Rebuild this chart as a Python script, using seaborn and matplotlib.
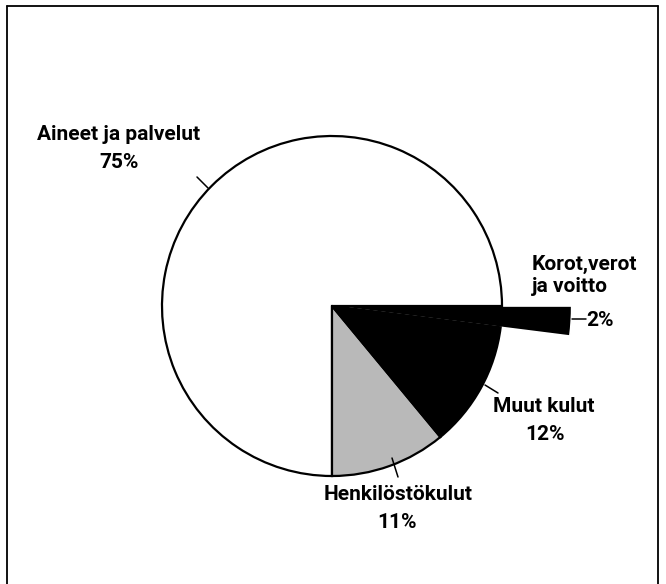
import matplotlib
matplotlib.use("Agg")
import matplotlib.pyplot as plt
from matplotlib.lines import Line2D
import seaborn as sns

sns.set_theme(style="white")
plt.rcParams["font.family"] = ["Roboto", "Liberation Sans", "DejaVu Sans"]

# data (order = counterclockwise from 3 o'clock)
labels = ["Aineet ja palvelut", "Henkilöstökulut", "Muut kulut", "Korot,verot\nja voitto"]
shares = [75, 11, 12, 2]
colors = ["white", "#b9b9b9", "black", "black"]

W, H = 666, 584
CX, CY, R = 332, H - 306, 170


def px(x, y):
    # image pixel (y from top) -> data coords
    return x, H - y


fig = plt.figure(figsize=(W / 100, H / 100), dpi=100)
ax = fig.add_axes([0, 0, 1, 1])
wedges, _ = ax.pie(shares, colors=colors, startangle=0, counterclock=True,
                   center=(CX, CY), radius=R,
                   wedgeprops=dict(edgecolor="black", linewidth=1.6))
# the small slice is drawn as a long spike past the rim
spike = wedges[3]
spike.set_radius(R * 1.41)
spike.set_edgecolor("white")
spike.set_linewidth(1.2)
spike.set_zorder(0.5)
ax.set_xlim(0, W); ax.set_ylim(0, H)
ax.set_aspect("equal"); ax.axis("off")

fs = 15
kw = dict(fontsize=fs, fontweight="bold", color="black")
ax.text(*px(119, 135), labels[0], ha="center", va="center", **kw)
ax.text(*px(119, 163), f"{shares[0]}%", ha="center", va="center", **kw)
ax.text(*px(532, 275), labels[3], ha="left", va="center", linespacing=1.2, **kw)
ax.text(*px(586, 320), f"{shares[3]}%", ha="left", va="center", **kw)
ax.text(*px(544, 407), labels[2], ha="center", va="center", **kw)
ax.text(*px(545, 435), f"{shares[2]}%", ha="center", va="center", **kw)
ax.text(*px(398, 495), labels[1], ha="center", va="center", **kw)
ax.text(*px(397, 522), f"{shares[1]}%", ha="center", va="center", **kw)

# leader ticks
for (x0, y0), (x1, y1) in [((197, 177), (208, 188)), ((572, 319), (586, 319)),
                           ((485, 385), (498, 393)), ((392, 458), (398, 477))]:
    ax.plot([x0, x1], [H - y0, H - y1], color="black", lw=1.1)

# page frame (open at the bottom)
for xs, ys in [([7, 7], [0, H - 6]), ([7, 658], [H - 6, H - 6]), ([658, 658], [H - 6, 0])]:
    fig.add_artist(Line2D([x / W for x in xs], [y / H for y in ys], color="black", lw=1.3))

fig.savefig("out.png", dpi=100, facecolor="white")
